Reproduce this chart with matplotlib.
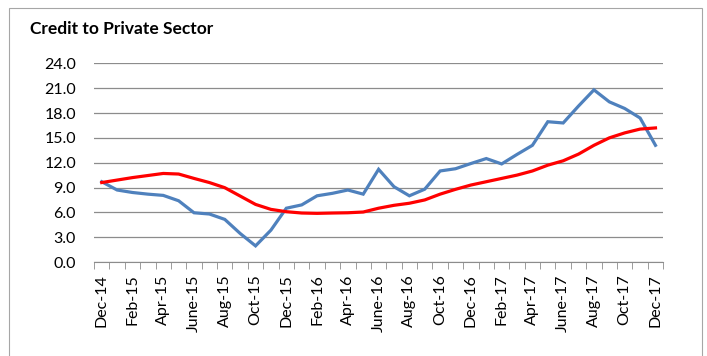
import numpy as np
import matplotlib.pyplot as plt
from matplotlib.patches import Rectangle

# monthly credit growth, Dec-14 .. Dec-17
months = ["Dec-14", "Jan-15", "Feb-15", "Mar-15", "Apr-15", "May-15", "June-15",
          "Jul-15", "Aug-15", "Sep-15", "Oct-15", "Nov-15", "Dec-15", "Jan-16",
          "Feb-16", "Mar-16", "Apr-16", "May-16", "June-16", "Jul-16", "Aug-16",
          "Sep-16", "Oct-16", "Nov-16", "Dec-16", "Jan-17", "Feb-17", "Mar-17",
          "Apr-17", "May-17", "June-17", "Jul-17", "Aug-17", "Sep-17", "Oct-17",
          "Nov-17", "Dec-17"]
credit = [9.7, 8.7, 8.4, 8.2, 8.05, 7.4, 5.95, 5.8, 5.15, 3.45, 1.95, 3.85,
          6.5, 6.9, 8.0, 8.3, 8.7, 8.2, 11.2, 9.1, 8.0, 8.8, 11.0, 11.27,
          11.9, 12.5, 11.85, 13.0, 14.1, 16.95, 16.8, 18.85, 20.8, 19.35,
          18.55, 17.4, 14.1]
trend = [9.6, 9.9, 10.2, 10.45, 10.7, 10.63, 10.1, 9.6, 8.98, 7.97, 6.96,
         6.36, 6.08, 5.92, 5.88, 5.92, 5.95, 6.04, 6.5, 6.85, 7.1, 7.5, 8.2,
         8.78, 9.3, 9.7, 10.1, 10.5, 11.0, 11.7, 12.23, 13.04, 14.1, 15.0,
         15.6, 16.06, 16.2]
yticks = [0, 3, 6, 9, 12, 15, 18, 21, 24]

plt.rcParams['font.family'] = ['Lato', 'DejaVu Sans']

fig = plt.figure(figsize=(7.07, 3.56), dpi=100)
ax = fig.add_axes([0.133, 0.264, 0.805, 0.558])

# outer chart border (bottom edge runs off the image)
fig.patches.append(Rectangle((0.0127, -0.05), 0.980, 1.0275, transform=fig.transFigure,
                             fill=False, edgecolor='#a6a6a6', linewidth=0.8))

x = np.arange(len(months))
ax.plot(x, credit, color='#4f81bd', linewidth=2.3, solid_joinstyle='miter', zorder=3)
ax.plot(x, trend, color='#ff0000', linewidth=2.3, zorder=4)

ax.set_xlim(-0.5, len(months) - 0.5)
ax.set_ylim(0, 24)
ax.set_yticks(yticks)
ax.set_yticklabels([f"{v:.1f}" for v in yticks], fontsize=11.5)
ax.yaxis.grid(True, color='#8c8c8c', linewidth=0.9)
ax.set_axisbelow(True)
ax.tick_params(axis='y', length=0, pad=13)

ax.set_xticks(x[::2])
ax.set_xticklabels(months[::2], rotation=90, fontsize=11.5)
ax.set_xticks(np.arange(-0.5, len(months)), minor=True)
ax.tick_params(axis='x', which='major', length=0, pad=9)
ax.tick_params(axis='x', which='minor', length=5, color='#8c8c8c', direction='out')

for side in ['top', 'right', 'left']:
    ax.spines[side].set_visible(False)
ax.spines['bottom'].set_color('#8c8c8c')

fig.text(0.043, 0.905, "Credit to Private Sector", fontsize=12.5, fontweight='bold')

fig.savefig("out.png", dpi=100)
